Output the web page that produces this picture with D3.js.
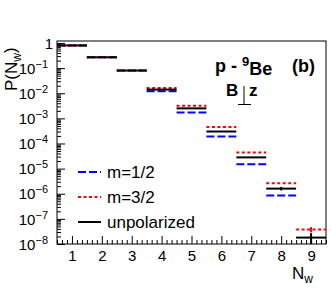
<!DOCTYPE html>
<html lang="en">
<head>
<meta charset="UTF-8">
<title>P(Nw) p-9Be</title>
<style>
  body { margin: 0; background: #fff; }
  text { font-family: "Liberation Sans", Arial, sans-serif; }
</style>
</head>
<body>
<script src="https://cdn.jsdelivr.net/npm/d3@7"></script>
<script>
// data
const bins = [1, 2, 3, 4, 5, 6, 7, 8, 9];
const m12 = [0.8, 0.27, 0.08, 0.012, 0.0017, 0.00019, 1.5e-5, 8.5e-7, null];
const m32 = [0.8, 0.27, 0.08, 0.016, 0.0032, 0.00045, 4.4e-5, 2.6e-6, 3.8e-8];
const unpol = [0.8, 0.27, 0.08, 0.014, 0.0025, 0.0003, 2.8e-5, 1.6e-6, 1.8e-8];
const m32Err = [0, 0, 0, 0, 0, 0, 0, 0, 0.9e-8];
const unpolErr = [0, 0, 0, 0, 0, 0, 0, 0.25e-6, 0.9e-8];
const yTicks = [1e-8, 1e-7, 1e-6, 1e-5, 1e-4, 1e-3, 1e-2, 1e-1, 1];
const legendLabels = ["m=1/2", "m=3/2", "unpolarized"];

const W = 332, H = 295;
const L = 57, R = 326, T = 41, B = 244;

const svg = d3.select("body").append("svg")
    .attr("width", W).attr("height", H);

const x = d3.scaleLinear().domain([0.5, 9.5]).range([L, R]);
const y = d3.scaleLog().domain([1e-8, 1.2]).range([B, T]);

// minor ticks
let yMinor = [];
for (let e = -8; e < 0; e++)
    for (let k = 2; k <= 9; k++) yMinor.push(k * Math.pow(10, e));
let xMinor = d3.range(0.5, 9.5001, 1 / 6).filter(v => Math.abs(v - Math.round(v)) > 0.01);

svg.append("g").attr("transform", `translate(${L},0)`)
    .call(d3.axisLeft(y).tickValues(yMinor).tickSize(-4).tickFormat(""))
    .call(g => g.select(".domain").remove());
const yAx = svg.append("g").attr("transform", `translate(${L},0)`)
    .call(d3.axisLeft(y).tickValues(yTicks).tickSize(-8).tickPadding(4))
    .call(g => g.select(".domain").remove());
yAx.selectAll("text")
    .style("font-size", "15px").attr("fill", "#000")
    .attr("dy", "0.35em")
    .each(function (d) {
        const t = d3.select(this).text("");
        if (d === 1) { t.text("1"); return; }
        const e = Math.round(Math.log10(d));
        t.attr("dx", "-5px");
        t.append("tspan").text("10");
        t.append("tspan").attr("dy", "-0.55em").style("font-size", "11px").text("\u2212" + (-e));
    });

svg.append("g").attr("transform", `translate(0,${B})`)
    .call(d3.axisBottom(x).tickValues(xMinor).tickSize(-4).tickFormat(""))
    .call(g => g.select(".domain").remove());
svg.append("g").attr("transform", `translate(0,${B})`)
    .call(d3.axisBottom(x).tickValues(bins).tickSize(-8).tickPadding(6).tickFormat(d3.format("d")))
    .call(g => g.select(".domain").remove())
    .selectAll("text").style("font-size", "15px").attr("fill", "#000");

svg.selectAll(".tick line").attr("stroke", "#000");

// frame
svg.append("rect").attr("x", L).attr("y", T).attr("width", R - L).attr("height", B - T)
    .attr("fill", "none").attr("stroke", "#000").attr("stroke-width", 1);

const plot = svg.append("g");
plot.append("clipPath").attr("id", "clip").append("rect")
    .attr("x", L).attr("y", T).attr("width", R - L).attr("height", B - T);
const g = plot.append("g").attr("clip-path", "url(#clip)");

const series = [
    { vals: m12, err: null, color: "#0000ff", dash: "8,3" },
    { vals: m32, err: m32Err, color: "#ff0000", dash: "3,2.5" },
    { vals: unpol, err: unpolErr, color: "#000000", dash: null }
];

series.forEach(s => {
    const pts = bins.map((b, i) => ({ b: b, v: s.vals[i], e: s.err ? s.err[i] : 0 }))
        .filter(d => d.v != null);
    g.selectAll(null).data(pts).join("line")
        .attr("x1", d => x(d.b - 0.5)).attr("x2", d => x(d.b + 0.5))
        .attr("y1", d => y(d.v)).attr("y2", d => y(d.v))
        .attr("stroke", s.color).attr("stroke-width", 2)
        .attr("stroke-dasharray", s.dash);
    g.selectAll(null).data(pts.filter(d => d.e > 0)).join("line")
        .attr("x1", d => x(d.b)).attr("x2", d => x(d.b))
        .attr("y1", d => y(d.v + d.e))
        .attr("y2", d => d.v - d.e > 0 ? y(d.v - d.e) : B + 5)
        .attr("stroke", s.color).attr("stroke-width", 2);
});

// legend
const leg = svg.append("g");
legendLabels.forEach((lab, i) => {
    const ly = 172 + i * 25;
    leg.append("line").attr("x1", 78).attr("x2", 101).attr("y1", ly).attr("y2", ly)
        .attr("stroke", series[i].color).attr("stroke-width", 2)
        .attr("stroke-dasharray", series[i].dash);
    leg.append("text").attr("x", 107).attr("y", ly + 6)
        .style("font-size", "17px").text(lab);
});

// annotation
const ann = svg.append("text").attr("x", 215).attr("y", 72)
    .style("font-size", "18px").style("font-weight", "bold");
ann.append("tspan").text("p - ");
ann.append("tspan").attr("dy", "-0.5em").style("font-size", "13px").text("9");
ann.append("tspan").attr("dy", "0.5em").text("Be");
svg.append("text").attr("x", 315).attr("y", 72).attr("text-anchor", "end")
    .style("font-size", "18px").style("font-weight", "bold").text("(b)");
svg.append("text").attr("x", 226).attr("y", 96)
    .style("font-size", "17px").style("font-weight", "bold").text("B");
svg.append("text").attr("x", 249).attr("y", 96)
    .style("font-size", "17px").style("font-weight", "bold").text("z");
svg.append("line").attr("x1", 244).attr("x2", 244).attr("y1", 86).attr("y2", 104.5)
    .attr("stroke", "#000").attr("stroke-width", 1);
svg.append("line").attr("x1", 238).attr("x2", 251).attr("y1", 104.5).attr("y2", 104.5)
    .attr("stroke", "#000").attr("stroke-width", 1);

// axis titles
const yt = svg.append("text").attr("transform", "translate(17,91) rotate(-90)")
    .style("font-size", "17px");
yt.append("tspan").text("P(N");
yt.append("tspan").attr("dy", "0.3em").style("font-size", "12px").text("w");
yt.append("tspan").attr("dy", "-0.3em").text(")");

const xt = svg.append("text").attr("x", 313).attr("y", 279).attr("text-anchor", "end")
    .style("font-size", "17px");
xt.append("tspan").text("N");
xt.append("tspan").attr("dy", "0.3em").style("font-size", "12px").text("w");
</script>
</body>
</html>
